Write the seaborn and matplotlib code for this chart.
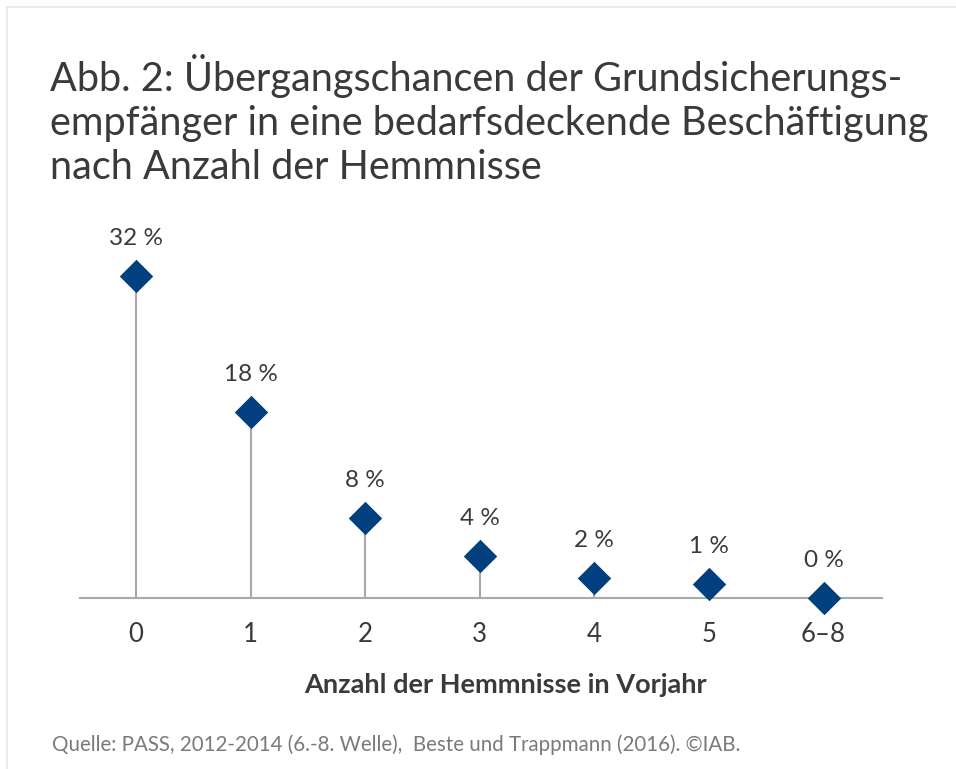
import matplotlib
matplotlib.use("Agg")
import matplotlib.pyplot as plt
import seaborn as sns
import pandas as pd
from matplotlib.lines import Line2D

# values
categories = ["0", "1", "2", "3", "4", "5", "6–8"]
shares = [32, 18.5, 8, 4.2, 2, 1.4, 0]
share_labels = ["32 %", "18 %", "8 %", "4 %", "2 %", "1 %", "0 %"]

title = ("Abb. 2: Übergangschancen der Grundsicherungs-\n"
         "empfänger in eine bedarfsdeckende Beschäftigung\n"
         "nach Anzahl der Hemmnisse")
xlabel = "Anzahl der Hemmnisse in Vorjahr"
source = "Quelle: PASS, 2012-2014 (6.-8. Welle),  Beste und Trappmann (2016). ©IAB."

df = pd.DataFrame({"hemmnisse": categories, "anteil": shares, "label": share_labels})

sns.set_style("white")
plt.rcParams["font.family"] = ["Lato", "DejaVu Sans"]

blue = "#023f7f"
grey = "#a9a9a9"
text_col = "#3a3a3a"

fig = plt.figure(figsize=(9.56, 7.69), dpi=100)
ax = fig.add_axes([0.0837, 0.2224, 0.8389, 0.4915])

# stems
ax.vlines(df["hemmnisse"], 0, df["anteil"], color=grey, linewidth=1.5, zorder=1)

sns.scatterplot(data=df, x="hemmnisse", y="anteil", marker="D", s=290,
                color=blue, edgecolor=blue, linewidth=0, ax=ax, zorder=3,
                clip_on=False, legend=False)

for x, y, lab in zip(df["hemmnisse"], df["anteil"], df["label"]):
    ax.annotate(lab, (x, y), xytext=(0, 27), textcoords="offset points",
                ha="center", va="center", fontsize=17.5, color=text_col)

ax.set_xlim(-0.49, 6.51)
ax.set_ylim(0, 37.6)
sns.despine(ax=ax, left=True)
ax.spines["bottom"].set_color(grey)
ax.spines["bottom"].set_linewidth(1.5)
ax.set_yticks([])
ax.set_ylabel("")
ax.tick_params(axis="x", length=6, width=1.5, color=grey, labelsize=18.5,
               labelcolor=text_col, pad=11)
ax.set_xlabel(xlabel, fontsize=19.5, fontweight="bold", color=text_col,
              labelpad=19, x=0.53)

fig.text(0.052, 0.93, title, fontsize=28.5, color=text_col, ha="left", va="top",
         linespacing=1.23)
fig.text(0.054, 0.031, source, fontsize=14.8, color="#7a7a7a", ha="left", va="center")

# faint frame on top and left
fig.add_artist(Line2D([0.007, 1], [0.991, 0.991], color="#e6e6e6", linewidth=1.2))
fig.add_artist(Line2D([0.007, 0.007], [0, 0.991], color="#e6e6e6", linewidth=1.2))

fig.savefig("out.png", dpi=100)
